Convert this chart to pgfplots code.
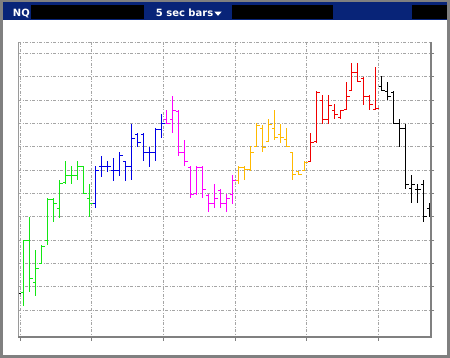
\documentclass[border=0pt]{standalone}
\usepackage{pgfplots}
\pgfplotsset{compat=1.18}
\usepackage{pgfplotstable}
\usepackage{fontspec}
\setmainfont{DejaVu Sans}

\definecolor{navy}{RGB}{8,36,120}
\definecolor{framegray}{RGB}{128,128,128}
\definecolor{gridgray}{RGB}{165,165,165}
\definecolor{cgreen}{RGB}{20,230,20}
\definecolor{cblue}{RGB}{0,0,230}
\definecolor{cmag}{RGB}{255,0,255}
\definecolor{corange}{RGB}{255,185,0}
\definecolor{cred}{RGB}{240,0,0}
\definecolor{cblack}{RGB}{0,0,0}

% x = bar position, o/h/l/c = open/high/low/close on the chart's (downward) price scale
\pgfplotstableread{
x o h l c
17.5 293.5 293.5 293.5 293.5
}\tprev
\pgfplotstableread{
x o h l c
23.5 292.5 240.5 305.5 240.5
29.5 240.5 217.5 291.5 278.5
35.5 282.5 250.5 295.5 268.5
41.5 263.5 245.5 263.5 246.5
47.5 240.5 198.5 244.5 199.5
53.5 199.5 198.5 221.5 203.5
59.5 208.5 180.5 217.5 183.5
65.5 182.5 161.5 183.5 175.5
71.5 175.5 166.5 183.5 175.5
77.5 175.5 161.5 179.5 166.5
83.5 166.5 166.5 193.5 193.5
89.5 198.5 184.5 216.5 203.5
}\tgreen
\pgfplotstableread{
x o h l c
95.5 203.5 166.5 207.5 170.5
101.5 166.5 156.5 176.5 166.5
107.5 166.5 161.5 171.5 166.5
113.5 170.5 158.5 180.5 170.5
119.5 170.5 152.5 175.5 155.5
125.5 161.5 161.5 180.5 166.5
131.5 166.5 124.5 179.5 138.5
137.5 134.5 133.5 146.5 142.5
143.5 134.5 133.5 160.5 152.5
149.5 152.5 147.5 166.5 152.5
155.5 152.5 128.5 160.5 129.5
161.5 129.5 114.5 137.5 123.5
}\tblue
\pgfplotstableread{
x o h l c
166.5 119.5 110.5 123.5 123.5
172.5 119.5 96.5 132.5 110.5
178.5 111.5 110.5 155.5 152.5
184.5 152.5 140.5 165.5 161.5
190.5 167.5 166.5 197.5 194.5
196.5 193.5 166.5 194.5 167.5
202.5 167.5 166.5 197.5 189.5
208.5 195.5 194.5 211.5 203.5
214.5 203.5 184.5 207.5 198.5
220.5 190.5 189.5 207.5 203.5
226.5 203.5 194.5 211.5 198.5
232.5 194.5 175.5 203.5 180.5
}\tmagenta
\pgfplotstableread{
x o h l c
238.5 180.5 166.5 183.5 167.5
244.5 167.5 166.5 179.5 169.5
250.5 169.5 146.5 170.5 152.5
256.5 146.5 123.5 146.5 125.5
262.5 128.5 125.5 151.5 147.5
268.5 141.5 119.5 141.5 124.5
274.5 128.5 110.5 139.5 137.5
280.5 134.5 124.5 142.5 137.5
286.5 139.5 128.5 146.5 146.5
292.5 152.5 152.5 179.5 174.5
298.5 171.5 171.5 174.5 174.5
304.5 170.5 161.5 170.5 162.5
}\torange
\pgfplotstableread{
x o h l c
310.5 161.5 133.5 161.5 142.5
316.5 141.5 91.5 142.5 92.5
322.5 100.5 95.5 123.5 119.5
328.5 119.5 95.5 123.5 105.5
334.5 110.5 104.5 118.5 114.5
340.5 117.5 110.5 118.5 110.5
346.5 109.5 82.5 109.5 96.5
351.5 90.5 63.5 90.5 72.5
357.5 72.5 63.5 81.5 81.5
363.5 78.5 77.5 104.5 96.5
369.5 96.5 95.5 109.5 104.5
375.5 109.5 67.5 109.5 108.5
}\tred
\pgfplotstableread{
x o h l c
381.5 86.5 76.5 90.5 90.5
387.5 91.5 82.5 99.5 96.5
393.5 92.5 91.5 123.5 123.5
399.5 123.5 119.5 146.5 128.5
405.5 128.5 124.5 188.5 184.5
411.5 188.5 175.5 202.5 184.5
417.5 189.5 184.5 202.5 189.5
423.5 184.5 180.5 221.5 216.5
429.5 208.5 203.5 216.5 210.5
}\tblack

\newcommand{\ohlc}[2]{%
  \addplot[color=#1, draw=none, mark=none, forget plot,
    error bars/.cd, y dir=plus, y explicit, error mark=none,
    error bar style={color=#1, solid, line width=1pt, line cap=rect}]
    table[x=x, y=h, y error expr=\thisrow{l}-\thisrow{h}] {#2};
  \addplot[color=#1, draw=none, mark=none, forget plot,
    error bars/.cd, x dir=minus, x fixed=2.5, error mark=none,
    error bar style={color=#1, solid, line width=1pt, line cap=rect}]
    table[x=x, y=o] {#2};
  \addplot[color=#1, draw=none, mark=none, forget plot,
    error bars/.cd, x dir=plus, x fixed=2.5, error mark=none,
    error bar style={color=#1, solid, line width=1pt, line cap=rect}]
    table[x=x, y=c] {#2};
}

\begin{document}
\begin{tikzpicture}
% outer frame and background
\fill[framegray] (0pt,0pt) rectangle (450pt,358pt);
\fill[white] (3pt,3pt) rectangle (447pt,356pt);
% header band
\fill[navy] (3pt,338pt) rectangle (447pt,356pt);
\fill[black] (31pt,339pt) rectangle (144pt,353pt);
\fill[black] (232pt,339pt) rectangle (333pt,353pt);
\fill[black] (412pt,339pt) rectangle (447pt,353pt);
\node[anchor=base west, text=white, inner sep=0pt, font=\bfseries\fontsize{10}{12}\selectfont] at (12.7pt,341.5pt) {NQ};
\node[anchor=base west, text=white, inner sep=0pt, font=\bfseries\fontsize{10}{12}\selectfont] at (155.7pt,341.5pt) {5 sec bars};
\fill[white] (214.3pt,346.3pt) -- (221.7pt,346.3pt) -- (218pt,342.2pt) -- cycle;

\begin{axis}[
  at={(18pt,21pt)}, anchor=south west,
  scale only axis, width=412pt, height=295pt,
  xmin=18, xmax=430, ymin=42, ymax=337, y dir=reverse,
  axis line style={draw=none},
  xtick={20.5,91.5,163.5,235.5,306.5,378.5},
  ytick={53.5,76.5,100.5,123.5,146.5,170.5,193.5,216.5,240.5,263.5,286.5,310.5},
  xticklabels={}, yticklabels={},
  xtick pos=left, ytick pos=right, tick align=outside,
  major tick length=4pt,
  tick style={draw=framegray, line width=1pt},
  grid=major,
  grid style={draw=gridgray, line width=1pt, dash pattern=on 3pt off 1.5pt on 1pt off 1.5pt},
]
\ohlc{cblack}{\tprev}
\ohlc{cgreen}{\tgreen}
\ohlc{cblue}{\tblue}
\ohlc{cmag}{\tmagenta}
\ohlc{corange}{\torange}
\ohlc{cred}{\tred}
\ohlc{cblack}{\tblack}
\end{axis}
% axis frame lines
\draw[gridgray, line width=1pt, dash pattern=on 3pt off 1.5pt on 1pt off 1.5pt] (18pt,315.5pt) -- (430pt,315.5pt);
\draw[framegray!80, line width=1pt] (18.5pt,21pt) -- (18.5pt,316pt);
\draw[framegray, line width=1.5pt] (18pt,21pt) -- (430pt,21pt);
\draw[framegray, line width=2pt] (431pt,20.25pt) -- (431pt,316pt);
\pgfresetboundingbox
\useasboundingbox (0pt,0pt) rectangle (450pt,358pt);
\end{tikzpicture}
\end{document}
